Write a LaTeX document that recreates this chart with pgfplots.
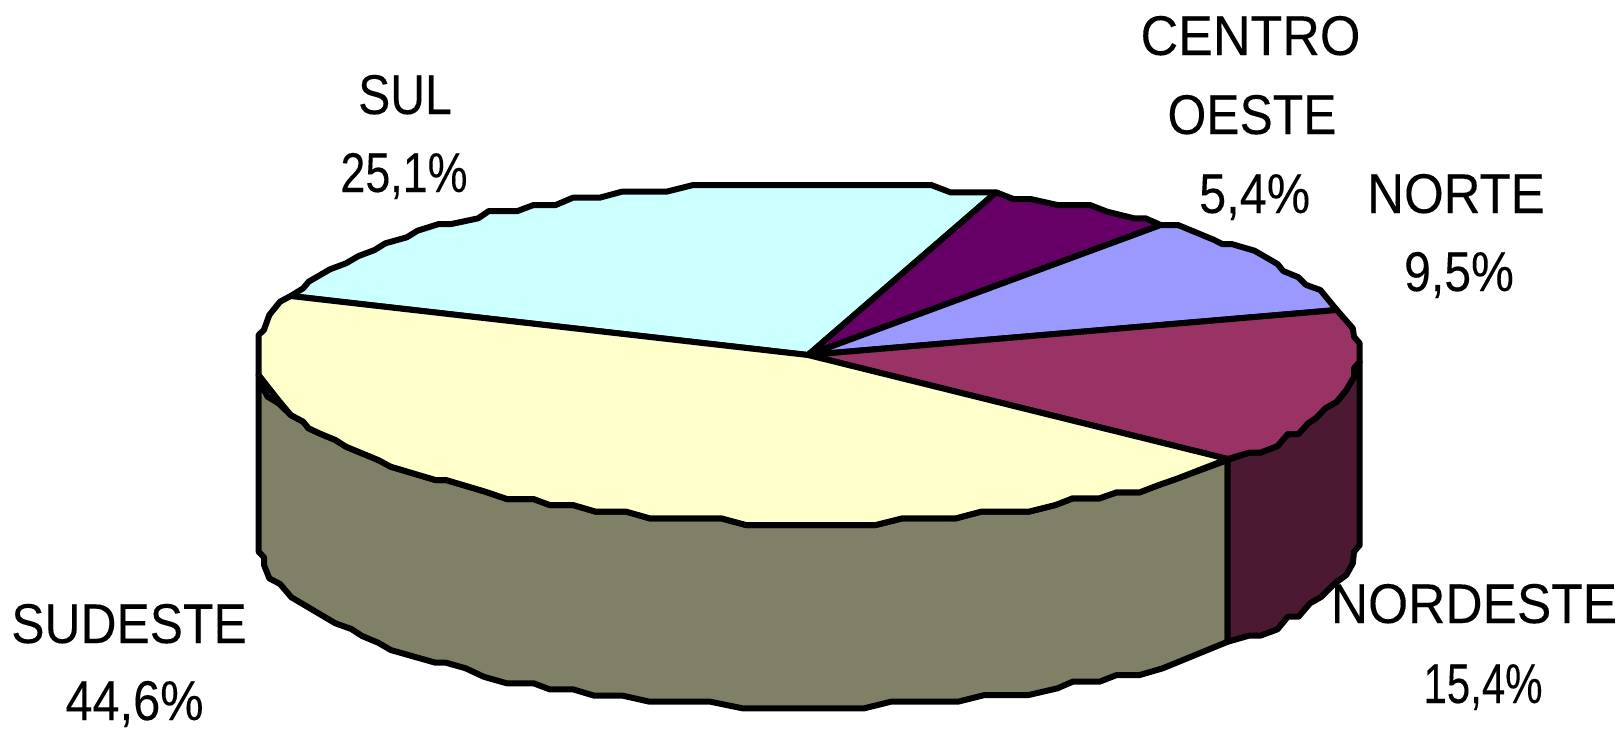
\documentclass[border=0pt]{standalone}
\usepackage{pgfplots}
\pgfplotsset{compat=1.18}
\usepackage{graphicx}
\usepackage{fontspec}
\setmainfont[FakeBold=0.15]{Liberation Sans}

\definecolor{sulc}{HTML}{CCFFFF}
\definecolor{sudc}{HTML}{FFFFCC}
\definecolor{cenc}{HTML}{660066}
\definecolor{norc}{HTML}{9999FF}
\definecolor{ndec}{HTML}{993366}
\definecolor{sudside}{HTML}{808066}
\definecolor{ndeside}{HTML}{4C1933}

% label: x, baseline y, horizontal squeeze, text
\newcommand{\lab}[4]{\node[anchor=base,inner sep=0pt] at (axis cs:#1,#2) {\scalebox{#3}[1]{\fontsize{28}{32}\selectfont #4}};}

\begin{document}
\begin{tikzpicture}
\begin{axis}[
	name=pie,
	width=811pt, height=365pt,
	scale only axis,
	hide axis,
	xmin=0, xmax=1622,
	ymin=0, ymax=730,
	y dir=reverse,
	clip=false,
	every axis plot/.append style={black, line width=3pt, line join=round, mark=none},
]
% side of SUDESTE
\addplot[fill=sudside] coordinates {
	(1227.7,460) (1178,478.3) (1158.8,485) (1139.7,492.3) (1116.7,492.3) (1099.5,498.3) (1072.7,498.3)
	(1055.5,505) (1028.7,511.7) (980.9,511.7) (956,518.3) (902.4,518.3) (875.7,525) (746,525)
	(721,518.3) (649.6,518.3) (626.4,511.7) (596,511.7) (572.9,505) (549.6,505) (533.6,499) (506.8,499)
	(485.4,491.7) (446,480) (435.4,480) (390.7,466.7) (378.2,460) (346,446.7) (335.4,440) (319.3,433.3)
	(308.6,428.3) (303.2,421.7) (290.7,415) (278.2,403) (267.5,396.7) (260,382) (258.6,375)
	(258.6,551.7) (264,557.3) (264,565) (269.3,578.3) (280,584) (291.4,597.3) (335.4,623.3) (351.4,629)
	(362.1,636) (378.2,642.7) (390.7,650) (435.4,662.7) (446,662.7) (465.7,668.3) (483.6,676.7)
	(506.8,683.3) (533.6,683.3) (549.6,689.3) (572.9,689.3) (594.3,695.7) (622.9,695.7) (649.6,701.7)
	(710.4,701.7) (742.5,708.3) (864.2,708.3) (891,701.7) (958,701.7) (984.7,695) (1028.7,695)
	(1057.4,688.3) (1072.7,681.7) (1099.5,681.7) (1116.7,675) (1139.7,675) (1162.7,668.3) (1227.7,641.7)
} --cycle;
% side of NORDESTE
\addplot[fill=ndeside] coordinates {
	(1227.7,460) (1248.8,452.7) (1260.2,452.7) (1277.5,446) (1287.8,434) (1298.5,434) (1308,423.3)
	(1315.7,418.3) (1325.3,408.3) (1336.8,401.7) (1346.3,390) (1354,376.7) (1354,368.3) (1359.7,361.7)
	(1359.7,545) (1354,551.7) (1352.8,563.3) (1346.3,575) (1334.9,583.3) (1321.5,596.7) (1310,603.3)
	(1298.5,616.7) (1287.8,616.7) (1277.5,629.3) (1260.2,635.7) (1248.8,635.7) (1227.7,641.7)
} --cycle;
% top: SUL
\addplot[fill=sulc] coordinates {
	(808,355) (290.7,296) (303.2,288.3) (308.6,281.7) (330,269.3) (346,263.3) (358.6,256) (374.6,250)
	(385.4,243.3) (406.8,237.3) (417.5,230.7) (438.9,224) (451.4,224) (478.2,218.3) (488.9,211) (517.5,211)
	(533.6,205) (555.7,205) (572.9,197.7) (599.6,197.7) (621.8,191.7) (666.4,191.7) (693.2,185)
	(931.2,185) (950.3,192.3) (996.2,192.3)
} --cycle;
% top: CENTRO OESTE
\addplot[fill=cenc] coordinates {
	(808,355) (996.2,192.3) (1013.4,199) (1030.6,199) (1057.4,205) (1090,205) (1107.2,211.7) (1134,218.3)
	(1145.4,218.3) (1160.7,225)
} --cycle;
% top: NORTE
\addplot[fill=norc] coordinates {
	(808,355) (1160.7,225) (1178,225) (1214.3,240) (1222,244) (1231.5,244) (1254.5,250.7) (1277.5,264)
	(1283.2,271) (1298.5,277.3) (1306.2,285) (1320.3,290) (1336.8,310)
} --cycle;
% top: NORDESTE
\addplot[fill=ndec] coordinates {
	(808,355) (1336.8,310) (1352.8,328.3) (1354,336.7) (1359.7,343.3) (1359.7,361.7) (1354,368.3) (1354,376.7)
	(1346.3,390) (1336.8,401.7) (1325.3,408.3) (1315.7,418.3) (1308,423.3) (1298.5,434) (1287.8,434)
	(1277.5,446) (1260.2,452.7) (1248.8,452.7) (1227.7,459)
} --cycle;
% top: SUDESTE
\addplot[fill=sudc] coordinates {
	(808,355) (1227.7,459) (1178,478.3) (1158.8,485) (1139.7,492.3) (1116.7,492.3) (1099.5,498.3) (1072.7,498.3)
	(1055.5,505) (1028.7,511.7) (980.9,511.7) (956,518.3) (902.4,518.3) (875.7,525) (746,525)
	(721,518.3) (649.6,518.3) (626.4,511.7) (596,511.7) (572.9,505) (549.6,505) (533.6,499) (506.8,499)
	(485.4,491.7) (446,480) (435.4,480) (390.7,466.7) (378.2,460) (346,446.7) (335.4,440) (319.3,433.3)
	(308.6,428.3) (303.2,421.7) (290.7,415) (278.2,400) (258.6,375) (258.6,335) (263.9,330) (269.3,315)
	(280,301.7) (290.7,296)
} --cycle;

\lab{405}{114}{.86}{SUL}
\lab{404}{192}{.8}{25,1\%}
\lab{1250.5}{55}{.93}{CENTRO}
\lab{1252}{134}{.89}{OESTE}
\lab{1254.6}{213}{.87}{5,4\%}
\lab{1456}{213}{.91}{NORTE}
\lab{1459}{291}{.86}{9,5\%}
\lab{129}{643}{.89}{SUDESTE}
\lab{134.5}{720}{.87}{44,6\%}
\lab{1474}{623}{.92}{NORDESTE}
\lab{1483}{703}{.75}{15,4\%}
\end{axis}
\pgfresetboundingbox
\path[use as bounding box] (pie.south west) rectangle (pie.north east);
\end{tikzpicture}
\end{document}
